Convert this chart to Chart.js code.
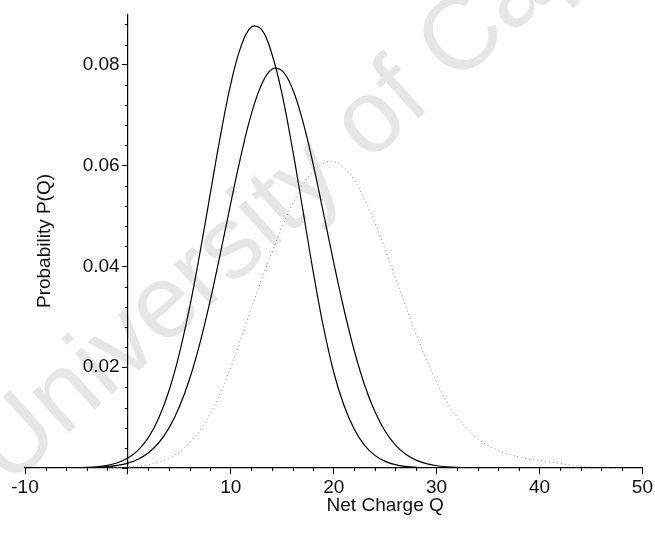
<!DOCTYPE html>
<html><head><meta charset="utf-8">
<script src="https://cdn.jsdelivr.net/npm/chart.js@4.4.0/dist/chart.umd.min.js"></script>
<style>html,body{margin:0;padding:0;background:#fff;}</style>
</head><body>
<canvas id="c" width="655" height="535"></canvas>
<script>
// Net charge Q sampled at integer steps
const xValues = [-10,-9,-8,-7,-6,-5,-4,-3,-2,-1,0,1,2,3,4,5,6,7,8,9,10,11,12,13,14,15,16,17,18,19,20,21,22,23,24,25,26,27,28,29,30,31,32,33,34,35,36,37,38,39,40,41,42,43,44,45,46,47,48,49,50];
// Taller solid curve
const curveA = [0,0,0,0,0.00002,0.00005,0.00012,0.00025,0.00052,0.00104,0.00197,0.00355,0.00608,0.0099,0.01538,0.0227,0.0319,0.0427,0.0544,0.066,0.0762,0.0837,0.0875,0.0870,0.0821,0.0740,0.0632,0.0512,0.0390,0.0280,0.0190,0.0124,0.0077,0.0045,0.0025,0.00132,0.00066,0.00031,0.00014,0.00006,0.00002,0,0,0,0,0,0,0,0,0,0,0,0,0,0,0,0,0,0,0,0];
// Second solid curve
const curveB = [0,0,0,0,0.00001,0.00003,0.00006,0.00013,0.00026,0.00051,0.00097,0.00175,0.00302,0.00501,0.00796,0.01214,0.01772,0.02479,0.03324,0.04272,0.05261,0.0621,0.07025,0.07616,0.07913,0.0788,0.0752,0.06877,0.06028,0.05063,0.04076,0.03145,0.02326,0.01648,0.0112,0.00728,0.00454,0.00272,0.00156,0.00086,0.00045,0.00023,0.00011,0.00005,0.00002,0,0,0,0,0,0,0,0,0,0,0,0,0,0,0,0];
// Dotted grey curve
const curveC = [0,0,0,0,0,0,0,0,0.00003,0.00008,0.00018,0.00036,0.00068,0.00118,0.00198,0.00318,0.00509,0.00746,0.01084,0.0150,0.0200,0.0258,0.0317,0.0374,0.0428,0.0479,0.0524,0.0562,0.0589,0.0605,0.0608,0.0596,0.0571,0.0533,0.0487,0.0434,0.0377,0.0320,0.0266,0.0215,0.0170,0.0131,0.0101,0.00773,0.00581,0.00449,0.00344,0.00274,0.0022,0.0018,0.0015,0.0012,0.0009,0.0006,0.0004,0.0002,0.0001,0.00005,0,0,0];
const xTickLabels = [-10,10,20,30,40,50];
const yTickLabels = [0.02,0.04,0.06,0.08];
const xTitle = 'Net Charge Q';
const yTitle = 'Probability P(Q)';
const watermark = 'University of Cape Town';

const FONT = '"Liberation Sans", Arial, sans-serif';
const pts = arr => xValues.map((x,i)=>({x:x,y:arr[i]}));

const watermarkPlugin = {
  id:'wm',
  beforeDraw(chart){
    const ctx = chart.ctx;
    ctx.save();
    ctx.fillStyle = '#e6e6e6';
    ctx.font = '104px ' + FONT;
    ctx.translate(8, 488);
    ctx.rotate(-42 * Math.PI / 180);
    ctx.textBaseline = 'alphabetic';
    ctx.fillText(watermark, 0, 0);
    ctx.restore();
  }
};

const minorTicks = {
  id:'minor',
  afterDraw(chart){
    const ctx = chart.ctx, xs = chart.scales.x, ys = chart.scales.y;
    const ay = ys.getPixelForValue(0), ax = xs.getPixelForValue(0);
    ctx.save();
    ctx.strokeStyle = '#000'; ctx.lineWidth = 1;
    ctx.beginPath();
    for (let v=-8; v<50; v+=2){ if (v%10===0) continue; const p=Math.round(xs.getPixelForValue(v))+0.5; ctx.moveTo(p,ay); ctx.lineTo(p,ay+3); }
    for (let k=1; k<=22; k++){ if (k%5===0) continue; const p=Math.round(ys.getPixelForValue(k*0.004))+0.5; ctx.moveTo(ax-3,p); ctx.lineTo(ax,p); }
    ctx.stroke();
    ctx.fillStyle = '#111';
    ctx.font = '19px ' + FONT;
    ctx.textAlign = 'center'; ctx.textBaseline = 'middle';
    ctx.fillText(xTitle, (ax + xs.getPixelForValue(50))/2, ay + 38);
    ctx.translate(45, 241);
    ctx.rotate(-Math.PI/2);
    ctx.fillText(yTitle, 0, 0);
    ctx.restore();
  }
};

new Chart(document.getElementById('c'), {
  type:'line',
  data:{datasets:[
    {data:pts(curveA), borderColor:'#000', borderWidth:1.2, pointRadius:0, tension:0.4, fill:false},
    {data:pts(curveB), borderColor:'#000', borderWidth:1.2, pointRadius:0, tension:0.4, fill:false},
    {data:pts(curveC), borderColor:'#888', borderWidth:1, borderDash:[1,3], pointRadius:0, tension:0.4, fill:false}
  ]},
  options:{
    responsive:false, animation:false, devicePixelRatio:1,
    layout:{padding:{left:25, right:8, top:8, bottom:67}},
    plugins:{legend:{display:false}, tooltip:{enabled:false}},
    scales:{
      x:{type:'linear', min:-10, max:50, position:{y:0},
        border:{display:true, color:'#000', width:1.2},
        grid:{display:true, drawOnChartArea:false, drawTicks:true, tickLength:6, color:'#000'},
        ticks:{stepSize:10, autoSkip:false, maxRotation:0, padding:2, color:'#111', font:{family:FONT, size:19},
          callback:v => xTickLabels.includes(v) ? String(v) : ''}
      },
      y:{type:'linear', min:0, max:0.09, position:{x:0},
        border:{display:true, color:'#000', width:1.2},
        grid:{display:true, drawOnChartArea:false, drawTicks:true, tickLength:5, color:'#000'},
        ticks:{stepSize:0.02, includeBounds:false, autoSkip:false, color:'#111', font:{family:FONT, size:19},
          callback:() => ''}
      },
      yLabels:{type:'linear', axis:'y', min:0, max:0.09, position:{x:-0.8},
        border:{display:false}, grid:{display:false},
        ticks:{stepSize:0.02, includeBounds:false, autoSkip:false, color:'#111', font:{family:FONT, size:19},
          callback:v => { const r=Math.round(v*100)/100; return yTickLabels.includes(r) ? r.toFixed(2) : null; }}
      }
    }
  },
  plugins:[watermarkPlugin, minorTicks]
});
</script>
</body></html>
